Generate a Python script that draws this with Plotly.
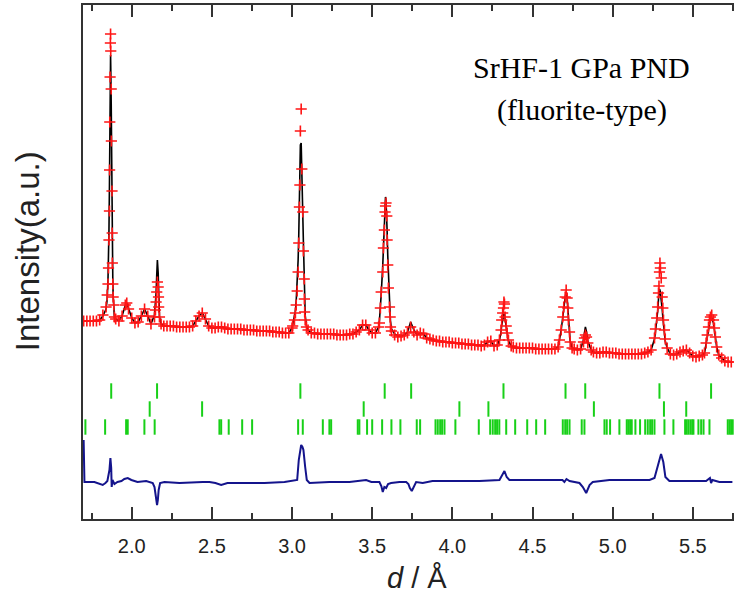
import plotly.graph_objects as go

# ---------------- data (d in Angstrom, intensity in arbitrary units) ----------------
obs_d = [
    1.70, 1.72, 1.74, 1.76, 1.78, 1.80, 1.82, 1.84,
    1.847, 1.852, 1.855, 1.858, 1.861, 1.862, 1.863, 1.865, 1.867, 1.868, 1.869, 1.872,
    1.873, 1.877, 1.878, 1.879, 1.882, 1.884, 1.888, 1.892,
    1.90, 1.92, 1.94, 1.96, 1.969, 1.98, 2.00, 2.02, 2.04, 2.06, 2.08, 2.10, 2.12,
    2.142, 2.148, 2.152, 2.156, 2.160, 2.165, 2.167, 2.168, 2.173, 2.183,
    2.20, 2.22, 2.24, 2.26, 2.28, 2.30, 2.32, 2.34, 2.36, 2.38, 2.40, 2.42, 2.44, 2.46,
    2.48, 2.50, 2.52, 2.54, 2.56, 2.58, 2.60, 2.62, 2.64, 2.66, 2.68, 2.70, 2.72, 2.74,
    2.76, 2.78, 2.80, 2.82, 2.84, 2.86, 2.88, 2.90, 2.92, 2.94, 2.96, 2.98, 3.00,
    3.004, 3.015, 3.021, 3.026, 3.032, 3.038, 3.042, 3.046, 3.049, 3.052, 3.057, 3.061,
    3.067, 3.071, 3.076, 3.077, 3.079, 3.082, 3.090,
    3.10, 3.12, 3.14, 3.16, 3.18, 3.20, 3.22, 3.24, 3.26, 3.28, 3.30, 3.32, 3.34, 3.36,
    3.38, 3.40, 3.42, 3.44, 3.46, 3.48, 3.50, 3.52, 3.54,
    3.545, 3.551, 3.556, 3.566, 3.570, 3.576, 3.580, 3.583, 3.586, 3.591, 3.593, 3.597,
    3.601, 3.608, 3.612, 3.614,
    3.62, 3.64, 3.66, 3.68, 3.70, 3.72, 3.74, 3.76, 3.78, 3.80, 3.82, 3.84, 3.86, 3.88,
    3.90, 3.92, 3.94, 3.96, 3.98, 4.00, 4.02, 4.04, 4.06, 4.08, 4.10, 4.12, 4.14, 4.16,
    4.18, 4.20, 4.22, 4.24, 4.26, 4.28,
    4.294, 4.304, 4.308, 4.314, 4.319, 4.322, 4.325, 4.329, 4.336, 4.342, 4.350, 4.367,
    4.38, 4.40, 4.42, 4.44, 4.46, 4.48, 4.50, 4.52, 4.54, 4.56, 4.58, 4.60, 4.62, 4.64, 4.66,
    4.668, 4.679, 4.689, 4.695, 4.704, 4.710, 4.716, 4.720, 4.724, 4.731, 4.735, 4.747,
    4.76, 4.78, 4.80,
    4.818, 4.824, 4.830, 4.837, 4.845, 4.866,
    4.88, 4.90, 4.92, 4.94, 4.96, 4.98, 5.00, 5.02, 5.04, 5.06, 5.08, 5.10, 5.12, 5.14,
    5.16, 5.18, 5.20, 5.22, 5.24,
    5.261, 5.267, 5.275, 5.281, 5.286, 5.289, 5.292, 5.295, 5.298, 5.303, 5.309, 5.313,
    5.317, 5.323, 5.328, 5.340,
    5.36, 5.38, 5.40, 5.42, 5.44, 5.46, 5.48, 5.50, 5.52, 5.54, 5.56,
    5.573, 5.583, 5.590, 5.598, 5.604, 5.610, 5.618, 5.629, 5.635, 5.641, 5.649, 5.662,
    5.68, 5.70, 5.72, 5.74,
]

obs_I = [
    44, 44, 44, 44, 44, 45, 50, 58,
    70, 81, 97, 125, 154, 195, 243, 288, 322, 331, 314, 276,
    224, 174, 132, 102, 81, 68, 60, 48,
    46, 44, 49, 60, 62, 56, 47, 42, 43, 49, 56, 49, 41,
    48, 55, 63, 73, 83, 78, 68, 58, 48, 41,
    39, 39, 39, 39, 38, 38, 38, 38, 38, 39, 44, 49, 52, 46,
    39, 37, 37, 38, 38, 37, 36, 36, 36, 36, 36, 35, 35, 35,
    35, 34, 34, 34, 34, 34, 33, 33, 33, 32, 32, 32, 37,
    39, 45, 52, 60, 74, 93, 122, 158, 180, 234, 256, 196,
    153, 114, 86, 66, 53, 45, 38,
    35, 32, 32, 31, 31, 31, 31, 31, 31, 30, 30, 30, 30, 31,
    31, 33, 35, 40, 40, 35, 32, 32, 38,
    42, 57, 73, 93, 117, 135, 153, 159, 162, 149, 125, 100,
    77, 58, 48, 38,
    34, 30, 28, 29, 30, 32, 38, 33, 30, 32, 31, 27, 26, 25,
    24, 24, 23, 23, 23, 22, 22, 22, 21, 21, 21, 20, 20, 20,
    19, 20, 23, 24, 19, 20,
    25, 35, 45, 52, 57, 63, 61, 48, 39, 32, 25, 19,
    18, 17, 17, 17, 17, 17, 17, 16, 16, 16, 16, 16, 16, 16, 18,
    25, 35, 48, 58, 68, 75, 67, 57, 45, 33, 23, 17,
    16, 15, 16,
    23, 27, 30, 28, 22, 15,
    13, 12, 12, 13, 13, 12, 12, 12, 11, 11, 11, 11, 11, 11,
    11, 11, 12, 13, 15,
    27, 36, 47, 58, 72, 79, 93, 102, 97, 87, 68, 57,
    45, 35, 26, 17,
    11, 10, 11, 13, 14, 15, 12, 9, 8, 9, 10,
    12, 22, 30, 38, 45, 48, 50, 45, 37, 28, 18, 10,
    7, 4, 3, 3,
]

calc_I = [
    44, 44, 44, 44, 44, 45, 49, 56,
    66, 86, 104, 135, 180, 205, 240, 285, 308, 310, 300, 262,
    230, 150, 135, 118, 84, 70, 56, 47,
    46, 44, 49, 60, 62, 56, 47, 42, 43, 49, 56, 49, 41,
    50, 60, 72, 90, 105, 92, 75, 62, 48, 41,
    39, 39, 39, 39, 38, 38, 38, 38, 38, 39, 44, 49, 52, 46,
    39, 37, 37, 38, 38, 37, 36, 36, 36, 36, 36, 35, 35, 35,
    35, 34, 34, 34, 34, 34, 33, 33, 33, 32, 32, 32, 37,
    40, 46, 54, 64, 80, 105, 130, 165, 195, 220, 222, 200,
    160, 122, 90, 78, 62, 50, 39,
    35, 32, 32, 31, 31, 31, 31, 31, 31, 30, 30, 30, 30, 31,
    31, 33, 35, 40, 40, 35, 32, 32, 38,
    44, 56, 70, 100, 118, 145, 163, 168, 165, 148, 135, 110,
    88, 62, 50, 44,
    36, 31, 29, 29, 30, 33, 43, 35, 30, 32, 31, 27, 26, 25,
    24, 24, 23, 23, 23, 22, 22, 22, 21, 21, 21, 20, 20, 20,
    19, 20, 23, 24, 19, 20,
    25, 33, 40, 46, 50, 51, 50, 45, 37, 30, 24, 19,
    18, 17, 17, 17, 17, 17, 17, 16, 16, 16, 16, 16, 16, 16, 18,
    25, 35, 48, 58, 68, 73, 68, 57, 45, 33, 24, 17,
    16, 15, 16,
    25, 32, 38, 33, 24, 15,
    13, 12, 12, 13, 13, 12, 12, 12, 11, 11, 11, 11, 11, 11,
    11, 11, 12, 13, 15,
    26, 33, 43, 54, 66, 72, 76, 75, 72, 66, 56, 48,
    40, 31, 24, 17,
    11, 10, 11, 13, 14, 15, 12, 9, 8, 9, 10,
    12, 21, 29, 37, 43, 46, 47, 42, 35, 27, 18, 10,
    7, 4, 3, 3,
]

diff_d = [
    1.700, 1.705, 1.767, 1.798, 1.819, 1.836, 1.848, 1.861, 1.867, 1.872, 1.875, 1.880,
    1.892, 1.911, 1.936, 1.954, 1.975, 1.998, 2.036, 2.090, 2.123, 2.131, 2.142, 2.148,
    2.154, 2.158, 2.163, 2.168, 2.177, 2.204, 2.298, 2.391, 2.443, 2.485, 2.522, 2.558,
    2.597, 2.703, 2.828, 2.953, 3.015, 3.032, 3.042, 3.049, 3.057, 3.065, 3.071, 3.082,
    3.092, 3.109, 3.233, 3.358, 3.462, 3.495, 3.545, 3.557, 3.566, 3.576, 3.587, 3.599,
    3.618, 3.670, 3.712, 3.726, 3.735, 3.747, 3.760, 3.774, 3.815, 3.876, 4.044, 4.169,
    4.294, 4.311, 4.325, 4.339, 4.356, 4.481, 4.606, 4.687, 4.699, 4.712, 4.731, 4.793,
    4.814, 4.835, 4.856, 4.876, 4.980, 5.105, 5.230, 5.261, 5.281, 5.302, 5.316, 5.329,
    5.354, 5.479, 5.583, 5.607, 5.614, 5.622, 5.666, 5.747,
]
diff_I = [
    -75, -117, -117, -119, -120, -118, -116, -105, -93, -103, -122, -115,
    -119, -117, -116, -114, -113, -115, -117, -116, -117, -118, -122, -128,
    -135, -140, -135, -125, -118, -117, -118, -117, -117, -117, -118, -120,
    -118, -118, -118, -117, -116, -115, -95, -85, -80, -82, -85, -102,
    -115, -118, -117, -117, -115, -117, -117, -121, -127, -122, -123, -119,
    -118, -117, -117, -119, -123, -126, -121, -117, -118, -116, -116, -116,
    -115, -110, -106, -112, -115, -115, -115, -115, -117, -114, -116, -118,
    -122, -128, -120, -117, -115, -115, -115, -113, -102, -89, -97, -112,
    -116, -116, -116, -113, -118, -115, -117, -117,
]

# reflection markers for the three phases
refl1_d = [1.872, 2.158, 3.052, 3.578, 3.743, 4.319, 4.706, 4.829, 5.292, 5.614]
refl2_d = [2.112, 2.439, 3.447, 4.044, 4.225, 4.883, 5.320, 5.459]
refl3_d = [
    1.711, 1.834, 1.965, 1.975, 2.079, 2.143, 2.547, 2.558, 2.605, 2.689, 2.751,
    3.038, 3.067, 3.192, 3.233, 3.244, 3.410, 3.420, 3.468, 3.500, 3.562, 3.620,
    3.676, 3.778, 3.799, 3.895, 3.909, 3.924, 3.936, 3.951, 4.019, 4.165, 4.236,
    4.252, 4.267, 4.279, 4.293, 4.336, 4.392, 4.467, 4.523, 4.579, 4.689, 4.704,
    4.716, 4.731, 4.807, 4.824, 4.949, 4.963, 4.984, 5.042, 5.088, 5.098, 5.109,
    5.119, 5.142, 5.171, 5.203, 5.219, 5.234, 5.246, 5.261, 5.323, 5.379, 5.452,
    5.462, 5.473, 5.485, 5.496, 5.504, 5.535, 5.552, 5.567, 5.604, 5.718, 5.729,
    5.739, 5.749,
]
refl_levels = [-26, -44, -62]

x_tick_vals = [2.0, 2.5, 3.0, 3.5, 4.0, 4.5, 5.0, 5.5]
x_tick_text = ["2.0", "2.5", "3.0", "3.5", "4.0", "4.5", "5.0", "5.5"]
x_range = [1.696, 5.757]
y_range = [-154, 360]

label_lines = ["SrHF-1 GPa PND", "(fluorite-type)"]

# ---------------- figure ----------------
fig = go.Figure()

fig.add_trace(go.Scatter(
    x=obs_d, y=calc_I, mode="lines",
    line=dict(color="black", width=1.6), name="calc", showlegend=False))

fig.add_trace(go.Scatter(
    x=obs_d, y=obs_I, mode="markers",
    marker=dict(symbol="cross-thin", size=8, color="red",
                line=dict(color="rgb(255,20,20)", width=1.6)),
    name="obs", showlegend=False))

green = "rgb(24,208,24)"
for refl, lev in zip([refl1_d, refl2_d, refl3_d], refl_levels):
    fig.add_trace(go.Scatter(
        x=refl, y=[lev] * len(refl), mode="markers",
        marker=dict(symbol="line-ns", size=11, color=green,
                    line=dict(color=green, width=2)),
        showlegend=False))

fig.add_trace(go.Scatter(
    x=diff_d, y=diff_I, mode="lines",
    line=dict(color="rgb(20,20,140)", width=2), name="diff", showlegend=False))

axis_col = "#333333"
fig.update_xaxes(
    range=x_range, tickvals=x_tick_vals, ticktext=x_tick_text,
    ticks="inside", ticklen=12, tickwidth=1.5, tickcolor=axis_col,
    minor=dict(dtick=0.25, tick0=0, ticks="inside", ticklen=6,
               tickwidth=1.5, tickcolor=axis_col),
    showline=True, linecolor=axis_col, linewidth=2, mirror="ticks",
    showgrid=False, zeroline=False,
    tickfont=dict(family="Liberation Sans, Arial", size=20, color="#222222"),
    ticklabelstandoff=8,
)
fig.update_yaxes(
    range=y_range, showticklabels=False, ticks="",
    showline=True, linecolor=axis_col, linewidth=2,
    showgrid=False, zeroline=False,
)

# axis titles (placed as in the reference)
fig.add_annotation(x=0.513, y=-0.115, xref="paper", yref="paper",
                   xanchor="center", yanchor="middle",
                   text="<i>d</i> / Å", showarrow=False,
                   font=dict(family="Liberation Sans, Arial", size=29, color="#222222"))
fig.add_annotation(x=-0.086, y=0.521, xref="paper", yref="paper",
                   xanchor="center", yanchor="middle", textangle=-90,
                   text="Intensity(a.u.)", showarrow=False,
                   font=dict(family="Liberation Sans, Arial", size=33, color="#222222"))

fig.add_annotation(x=0.765, y=0.878, xref="paper", yref="paper",
                   xanchor="center", yanchor="middle",
                   text=label_lines[0], showarrow=False,
                   font=dict(family="Liberation Serif, Times New Roman", size=30, color="black"))
fig.add_annotation(x=0.767, y=0.796, xref="paper", yref="paper",
                   xanchor="center", yanchor="middle",
                   text=label_lines[1], showarrow=False,
                   font=dict(family="Liberation Serif, Times New Roman", size=30, color="black"))

fig.update_layout(
    width=734, height=601,
    margin=dict(l=83, r=0, t=5, b=82, autoexpand=False),
    paper_bgcolor="white", plot_bgcolor="white",
    showlegend=False,
)

fig.write_html("out.html")
